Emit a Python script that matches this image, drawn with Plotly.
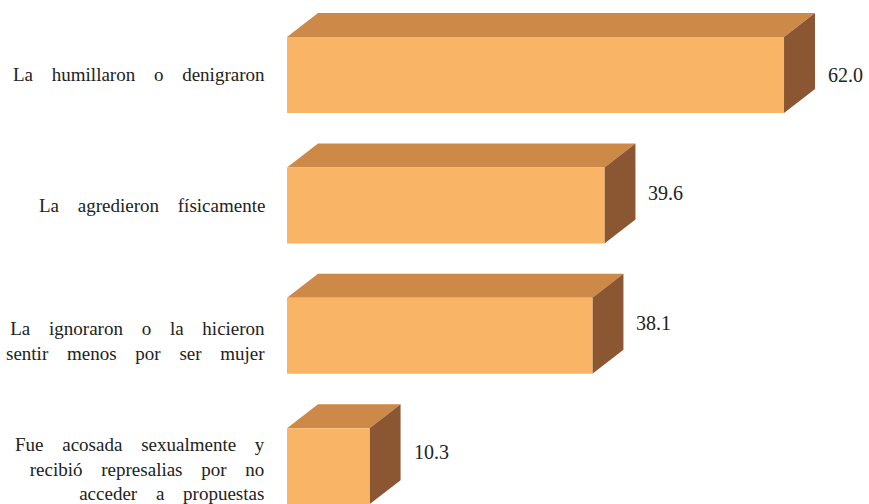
import plotly.graph_objects as go

# Percent of women by type of violence experienced
categories = [
    "La humillaron o denigraron",
    "La agredieron físicamente",
    "La ignoraron o la hicieron<br>sentir menos por ser mujer",
    "Fue acosada sexualmente y<br>recibió represalias por no<br>acceder a propuestas",
]
values = [62.0, 39.6, 38.1, 10.3]

# Colours of the three visible faces of each box
FRONT = "#F9B466"
TOP = "#CC8948"
SIDE = "#8A5732"
FONT = "Liberation Serif"
TEXT_COLOR = "#222222"
WORD_GAP = "word-spacing:14px"   # wide word gaps of the printed labels

W, H = 869, 504
LEFT = 287
XMAX = 72.6                      # x-range of the plot area
px_x = (W - LEFT) / XMAX         # pixels per x unit
Y_TOP, Y_BOT = -0.575, 3.29      # y-range (reversed)
px_y = H / (Y_BOT - Y_TOP)       # pixels per y unit

DX = 31 / px_x                   # depth offset, x units
DY = 24 / px_y                   # depth offset, y units
HALF = 38 / px_y                 # half height of the front face

fig = go.Figure()


def poly(xs, ys, color):
    fig.add_trace(go.Scatter(
        x=xs + [xs[0]], y=ys + [ys[0]], mode="lines", fill="toself",
        fillcolor=color, line=dict(width=0, color=color),
        hoverinfo="skip", showlegend=False,
    ))


for i, v in enumerate(values):
    y0, y1 = i - HALF, i + HALF        # top and bottom of the front face
    poly([0, v, v + DX, DX], [y0, y0, y0 - DY, y0 - DY], TOP)      # top face
    poly([v, v + DX, v + DX, v], [y0, y0 - DY, y1 - DY, y1], SIDE)  # side face
    poly([0, v, v, 0], [y0, y0, y1, y1], FRONT)                     # front face


def spaced(text):
    return "<br>".join(f'<span style="{WORD_GAP}">{part}</span>'
                       for part in text.split("<br>"))


cat_yshift = [0, 0, -5, -3]
value_yshift = [0, 12, 13, 14]
annotations = []
for i, (c, v) in enumerate(zip(categories, values)):
    annotations.append(dict(
        x=0, y=i, xref="x", yref="y", text=spaced(c), showarrow=False,
        xanchor="right", yanchor="middle", align="right",
        xshift=-20, yshift=cat_yshift[i],
        font=dict(family=FONT, size=19, color=TEXT_COLOR),
    ))
    annotations.append(dict(
        x=v + DX, y=i, xref="x", yref="y", text=f"{v:.1f}",
        showarrow=False, xanchor="left", yanchor="middle", align="left",
        xshift=11, yshift=value_yshift[i],
        font=dict(family=FONT, size=20, color=TEXT_COLOR),
    ))

fig.update_layout(
    width=W, height=H,
    margin=dict(l=LEFT, r=0, t=0, b=0),
    paper_bgcolor="white", plot_bgcolor="white",
    font=dict(family=FONT),
    xaxis=dict(range=[0, XMAX], visible=False, fixedrange=True),
    yaxis=dict(range=[Y_BOT, Y_TOP], visible=False, fixedrange=True),
    annotations=annotations,
)

fig.write_html("out.html", config={"displayModeBar": False})
